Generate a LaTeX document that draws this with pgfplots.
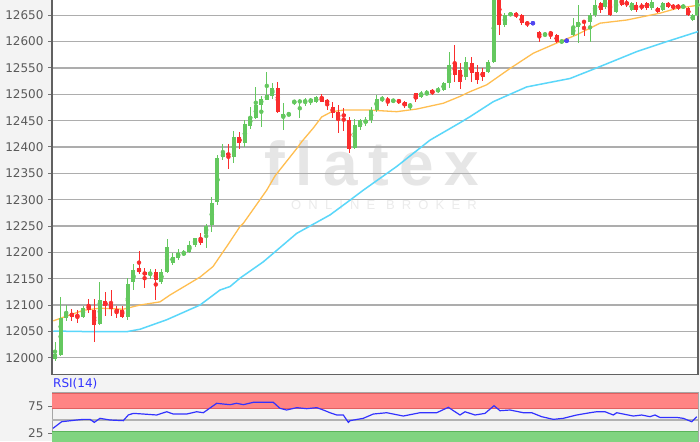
\documentclass[border=0pt]{standalone}
\usepackage{fontspec}
\setmainfont{DejaVu Sans}
\newfontfamily\wmfont[LetterSpace=17]{Liberation Sans}
\newfontfamily\wmsmall[LetterSpace=55]{Liberation Sans}
\usepackage{pgfplots}
\usepackage{pgfplotstable}
\pgfplotsset{compat=1.18}
\definecolor{bg}{HTML}{F3F3F3}
\definecolor{cgreen}{RGB}{100,200,95}
\definecolor{cred}{RGB}{250,45,45}
\definecolor{cblue}{RGB}{80,70,240}
\definecolor{maorange}{RGB}{255,190,80}
\definecolor{mablue}{RGB}{90,215,250}
\definecolor{wm}{HTML}{E6E6E6}
\definecolor{tickgray}{HTML}{5A5A5A}
\definecolor{rsired}{RGB}{255,132,132}
\definecolor{rsiredline}{RGB}{225,95,95}
\definecolor{rsigreen}{RGB}{128,212,128}
\definecolor{rsigreenline}{RGB}{90,180,90}
\definecolor{rsiline}{RGB}{50,50,255}

\pgfplotstableread{
t O C H L
55 11998 12008 12030 11993
60.6 12005 12075 12115 12003
66.2 12075 12086 12100 12070
83 12078 12095 12098 12075
99.8 12065 12110 12143 12063
127.8 12078 12140 12152 12072
133.4 12144 12166 12178 12128
150.2 12158 12162 12168 12150
161.4 12144 12163 12168 12140
167 12162 12211 12226 12160
172.6 12180 12192 12198 12176
178.2 12190 12198 12206 12186
183.8 12195 12200 12205 12193
189.4 12200 12214 12222 12198
195 12214 12227 12228 12210
206.2 12235 12250 12254 12208
211.8 12252 12293 12305 12238
217.4 12296 12380 12385 12290
222.9 12381 12388 12406 12375
233.9 12382 12419 12431 12369
244.9 12407 12443 12451 12400
250.3 12440 12457 12476 12435
255.8 12455 12480 12514 12454
261.3 12480 12492 12496 12438
266.8 12490 12499 12543 12489
272.3 12496 12512 12521 12492
283.3 12456 12462 12483 12432
288.8 12461 12462 12465 12460
294.3 12485 12487 12490 12480
299.8 12485 12488 12492 12455
305.2 12485 12489 12493 12478
310.7 12486 12491 12494 12480
316.2 12486 12494 12496 12483
354.7 12399 12442 12454 12397
360.1 12438 12451 12454 12432
365.6 12446 12451 12456 12440
371.1 12451 12470 12476 12445
376.6 12470 12492 12499 12467
382.2 12490 12493 12496 12485
393.3 12486 12490 12492 12483
410.1 12476 12482 12484 12470
421.2 12495 12503 12507 12493
426.8 12500 12503 12508 12498
438 12505 12511 12513 12502
443.6 12508 12521 12524 12506
449.1 12521 12556 12581 12511
465.9 12533 12562 12571 12527
488.2 12543 12562 12565 12540
493.8 12562 12690 12690 12560
504.9 12632 12650 12655 12628
510.5 12650 12654 12656 12648
545 12612 12616 12618 12608
561.7 12599 12602 12604 12596
573.3 12613 12628 12644 12610
578.3 12628 12638 12670 12597
590 12638 12650 12654 12600
595 12650 12670 12679 12647
605 12666 12679 12685 12662
616 12657 12679 12685 12655
631.7 12660 12673 12676 12658
651.7 12663 12676 12679 12660
662.7 12660 12673 12676 12658
683.3 12663 12670 12672 12661
692.7 12641 12650 12652 12639
697.3 12650 12690 12690 12648
}\greenT

\pgfplotstableread{
t O C H L
71.8 12085 12078 12092 12070
77.4 12082 12077 12090 12065
88.6 12100 12090 12112 12085
94.2 12090 12062 12112 12030
105.4 12108 12098 12125 12080
111 12102 12092 12128 12080
116.6 12092 12086 12098 12075
122.2 12090 12078 12098 12075
139 12170 12163 12203 12158
144.6 12162 12158 12170 12132
155.8 12163 12147 12168 12110
200.6 12227 12217 12237 12214
228.4 12388 12384 12405 12358
239.4 12419 12407 12429 12397
277.8 12512 12467 12524 12464
321.7 12494 12486 12501 12485
327.2 12489 12483 12492 12470
332.7 12475 12464 12486 12455
338.2 12467 12451 12480 12426
343.7 12462 12458 12474 12430
349.2 12451 12397 12457 12388
387.8 12492 12486 12495 12477
398.9 12489 12485 12492 12482
404.5 12486 12477 12488 12474
415.7 12502 12492 12503 12485
432.4 12508 12502 12510 12498
454.7 12559 12537 12594 12524
460.3 12546 12524 12560 12511
471.5 12559 12540 12571 12524
477 12543 12527 12555 12520
482.6 12543 12533 12550 12525
499.4 12690 12632 12690 12612
516.1 12654 12648 12657 12645
521.7 12650 12635 12652 12632
527.3 12638 12632 12640 12628
539.3 12619 12609 12620 12600
550.7 12619 12613 12621 12605
556.7 12613 12600 12614 12598
584 12640 12635 12642 12610
600.7 12673 12660 12676 12655
610 12679 12650 12685 12648
621.7 12679 12670 12685 12668
626.7 12676 12670 12679 12666
636 12670 12660 12675 12657
641.7 12670 12663 12673 12660
646.7 12673 12663 12676 12660
657.7 12663 12657 12666 12654
668.3 12673 12666 12676 12664
673.3 12670 12663 12672 12660
678.3 12670 12663 12672 12660
688.3 12663 12650 12666 12648
}\redT

\pgfplotstableread{
t O C H L
532.9 12635 12635 12636 12634
566.7 12602 12602 12606 12597
}\blueT

\pgfplotstableread{
t v
53.3 12070
83.3 12090
100 12094
123 12092
140 12100
160 12106
170 12119
200 12153
213 12173
226.7 12211
240 12249
243.3 12255
266.7 12318
275 12345
296.7 12397
301.7 12410
313.3 12436
321.7 12457
331.7 12467
343.3 12470
370 12470
396.7 12467
416.7 12472
443.3 12483
460 12496
470 12505
486.7 12518
510 12549
533.3 12578
560 12600
576.7 12613
600 12635
626.7 12641
660 12654
676.7 12663
698 12669
}\maA

\pgfplotstableread{
t v
53.3 12050.6
93.3 12049.4
126.7 12049.4
140 12054
166.7 12072
200 12100
220 12128.5
230 12135
240 12151
263.3 12182
296.7 12236
330 12271
350 12299
363.3 12318
396.7 12363
430 12413
460 12446
470 12457.5
493.3 12486
526.7 12514
570 12530
593.3 12547.5
636.7 12581
666.7 12600
698 12619
}\maB

\pgfplotstableread{
t v
53 34.5
61.7 46.7
76.7 49.8
83.3 51
90 51
94.3 45.5
100 52.9
110 49.8
123.3 48.6
128.3 59
133.3 62
143.3 60.8
156.7 59
166.7 65
173.3 60.8
186.7 60.8
196.7 65
203.3 63.2
216.7 80.5
223.3 79.2
230 78
236.7 80.5
243.3 78
253.3 82.3
260 82.3
266.7 82.3
273.3 82.3
280 71.2
286.7 68.2
296.7 72.5
306.7 70.6
316.7 72.5
323.3 68.2
330 63.2
336.7 59
343.3 59
348.3 45.5
350 48.6
363.3 52.9
373.3 60.8
386.7 63.2
403.3 57.1
420 63.2
436.7 63.2
448.3 73.1
460 59
465 65
475 59
485 62
494 76.1
500 66.9
510 68.2
523.3 63.2
531.7 63.2
541.7 55.9
553.3 51
563.3 52.9
576.7 59
590 63.2
596.7 65
605 65
613.3 59
616.7 63.2
633.3 57.1
641.7 59
650 55.9
655 59
660 54.5
676.7 54.5
683.3 52.9
691.7 46.7
696.7 55.9
}\rsiT

\begin{document}
\begin{tikzpicture}[x=1pt,y=1pt]
\useasboundingbox (0,0) rectangle (700,441);
\fill[bg] (0,0) rectangle (700,441);
\fill[white] (52,66.7) rectangle (698,441);
% watermark
\node[text=wm, font=\wmfont\fontsize{62}{62}\selectfont\bfseries] at (372,278) {flatex};
\node[text=wm!80!white, font=\wmsmall\fontsize{13}{13}\selectfont] at (384,236) {ONLINE BROKER};

\begin{axis}[
  at={(52pt,66.7pt)}, anchor=south west,
  scale only axis, width=646pt, height=377.3pt,
  xmin=52, xmax=698, ymin=11968.5, ymax=12684.7,
  xtick=\empty,
  ytick={12000,12050,...,12650},
  scaled y ticks=false,
  ytick pos=left,
  tick align=outside,
  major tick length=4pt,
  tick style={color=black!55, line width=1pt},
  yticklabel style={font=\fontsize{12}{14}\selectfont, text=tickgray, xshift=-1pt,
    /pgf/number format/.cd, fixed, precision=0, 1000 sep={}, assume math mode=true},
  ymajorgrids,
  grid style={color=black!32, line width=1.3pt},
  axis line style={color=black!62, line width=1.3pt},
]
% moving averages
\addplot[maorange, line width=1.3pt, mark=none] table[x=t,y=v] \maA;
\addplot[mablue, line width=1.5pt, mark=none] table[x=t,y=v] \maB;
% green candles
\addplot[cgreen, only marks, mark=none, error bars/.cd, y dir=both, y explicit, error mark=none, error bar style={line width=1pt, cgreen}]
  table[x=t, y expr={(\thisrow{H}+\thisrow{L})/2}, y error expr={(\thisrow{H}-\thisrow{L})/2}] \greenT;
\addplot[cgreen, only marks, mark=none, error bars/.cd, y dir=both, y explicit, error mark=none, error bar style={line width=4pt, cgreen}]
  table[x=t, y expr={(\thisrow{O}+\thisrow{C})/2}, y error expr={max(abs(\thisrow{O}-\thisrow{C})/2,0.95)}] \greenT;
% red candles
\addplot[cred, only marks, mark=none, error bars/.cd, y dir=both, y explicit, error mark=none, error bar style={line width=1pt, cred}]
  table[x=t, y expr={(\thisrow{H}+\thisrow{L})/2}, y error expr={(\thisrow{H}-\thisrow{L})/2}] \redT;
\addplot[cred, only marks, mark=none, error bars/.cd, y dir=both, y explicit, error mark=none, error bar style={line width=4pt, cred}]
  table[x=t, y expr={(\thisrow{O}+\thisrow{C})/2}, y error expr={max(abs(\thisrow{O}-\thisrow{C})/2,0.95)}] \redT;
% blue dojis
\addplot[cblue, only marks, mark=none, error bars/.cd, y dir=both, y explicit, error mark=none, error bar style={line width=1pt, cblue}]
  table[x=t, y expr={(\thisrow{H}+\thisrow{L})/2}, y error expr={(\thisrow{H}-\thisrow{L})/2}] \blueT;
\addplot[cblue, only marks, mark=none, error bars/.cd, y dir=both, y explicit, error mark=none, error bar style={line width=5pt, cblue}]
  table[x=t, y expr={(\thisrow{O}+\thisrow{C})/2}, y error expr={max(abs(\thisrow{O}-\thisrow{C})/2,0.95)}] \blueT;
\end{axis}

\node[anchor=west, text=rsiline, font=\fontsize{12}{14}\selectfont, inner sep=0pt] at (53,57) {RSI(14)};

\begin{axis}[
  at={(52pt,48.3pt)}, anchor=north west,
  scale only axis, width=646pt, height=54.4pt,
  xmin=52, xmax=698, ymin=0, ymax=100,
  xtick=\empty,
  ytick={25,75},
  ytick pos=left,
  tick align=outside,
  major tick length=4pt,
  tick style={color=black!55, line width=1pt},
  yticklabel style={font=\fontsize{12}{14}\selectfont, text=tickgray, xshift=-1pt,
    /pgf/number format/assume math mode=true},
  axis line style={color=black!35, line width=0.8pt},
  clip=true,
]
\addplot[fill=rsired, draw=none] coordinates {(52,70) (698,70) (698,100) (52,100)} -- cycle;
\addplot[fill=rsigreen, draw=none] coordinates {(52,0) (698,0) (698,30) (52,30)} -- cycle;
\addplot[rsiredline, line width=1pt] coordinates {(52,70.5) (698,70.5)};
\addplot[rsiredline, line width=0.8pt] coordinates {(52,99.5) (698,99.5)};
\addplot[rsigreenline, line width=1pt] coordinates {(52,29.5) (698,29.5)};
\addplot[black!30, line width=1.2pt] coordinates {(52,50) (698,50)};
\addplot[rsiline, line width=1.2pt, mark=none] table[x=t,y=v] \rsiT;
\end{axis}
\end{tikzpicture}
\end{document}
